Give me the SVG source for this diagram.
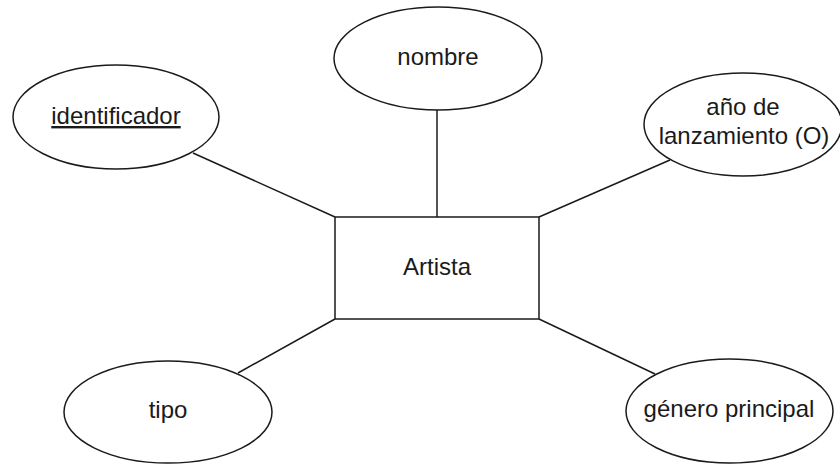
<svg xmlns="http://www.w3.org/2000/svg" width="840" height="464" viewBox="0 0 840 464">
<style>
.shape{fill:#ffffff;stroke:#1a1a1a;stroke-width:1.5}
.conn{stroke:#1a1a1a;stroke-width:1.5;fill:none}
text{font-family:"Liberation Sans",Arial,sans-serif;font-size:24px;fill:#1a1a1a;text-anchor:middle}
</style>
<rect width="840" height="464" fill="#ffffff"/>
<g id="connectors">
<line class="conn" x1="193" y1="153" x2="335" y2="217"/>
<line class="conn" x1="437" y1="110" x2="437" y2="217"/>
<line class="conn" x1="670" y1="160" x2="539" y2="217"/>
<line class="conn" x1="238" y1="373" x2="335" y2="319"/>
<line class="conn" x1="539" y1="319" x2="655" y2="374"/>
</g>
<g id="artista">
<rect class="shape" x="335" y="217" width="204" height="102"/>
<text x="437" y="275">Artista</text>
</g>
<g id="identificador">
<ellipse class="shape" cx="116" cy="117" rx="103" ry="52"/>
<text x="116" y="124" text-decoration="underline">identificador</text>
</g>
<g id="nombre">
<ellipse class="shape" cx="438" cy="58.5" rx="104" ry="51.5"/>
<text x="438" y="65">nombre</text>
</g>
<g id="anio">
<ellipse class="shape" cx="743" cy="124.5" rx="99" ry="51.5"/>
<text x="743" y="115">año de</text>
<text x="744" y="144">lanzamiento (O)</text>
</g>
<g id="tipo">
<ellipse class="shape" cx="168" cy="412" rx="104" ry="51"/>
<text x="168" y="418">tipo</text>
</g>
<g id="genero">
<ellipse class="shape" cx="729.5" cy="411" rx="103.5" ry="52"/>
<text x="729" y="417">género principal</text>
</g>
</svg>
